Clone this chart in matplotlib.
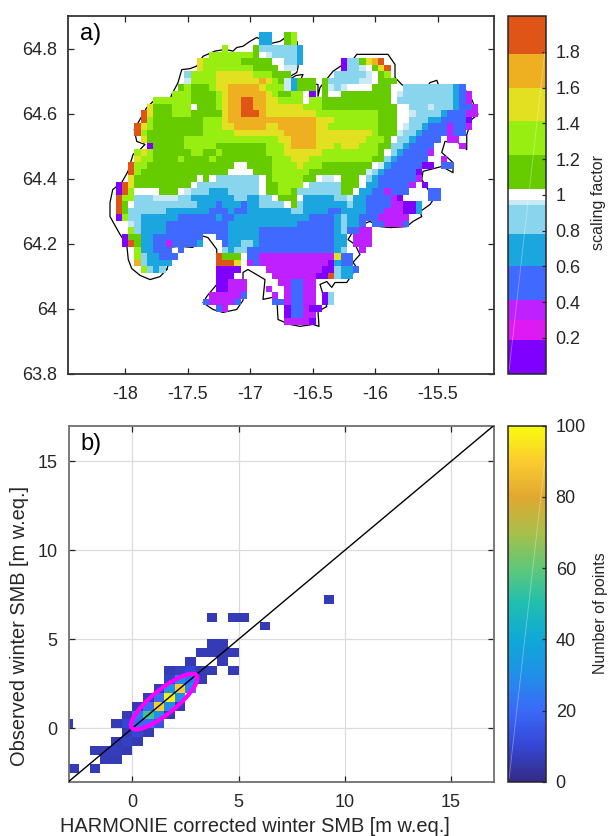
import re
import numpy as np
import matplotlib
matplotlib.use("Agg")
import matplotlib.pyplot as plt
from matplotlib.colors import ListedColormap, BoundaryNorm, LinearSegmentedColormap
from matplotlib.patches import Ellipse, Rectangle

plt.rcParams['font.family'] = ['Liberation Sans', 'DejaVu Sans']
plt.rcParams['axes.unicode_minus'] = False

# ---------- panel a data: scaling factor classes per grid row (north to south)
class_value = dict(v=0.1, m=0.33, b=0.5, c=0.7, l=0.86, p=0.955, w=1.0,
                   g=1.12, h=1.3, y=1.5, o=1.7, r=1.9)
grid_rows = [
 "23-24c 27g 28h",
 "23-24c 27g 28h",
 "17h 22g 23-24l 25-28l 29c",
 "15-21h 22g 23w 24p 25-28l 29c",
 "13y 14-19h 20-24g 25-26w 27-28l 29c 36v 37-38l 39g 40y 41o 42r",
 "13y 14-21h 22-25g 26w 27-28p 36v 37-38l 39p 40w 41g 42y 43r",
 "11l 12-15h 16-21y 22-24h 25-27g 35-39l 40p 41w 42g 43h",
 "11p 12-15h 16-22y 23o 24y 25h 26g 27p 28c 29-31g 33g 34-38l 39-40p 41w 42-44g",
 "10g 11h 12-14g 15h 16-17y 18-22o 23y 24-26h 27p 28c 29-31g 33g 34p 35l 36p 37-40w 41-43g 44w 46-53l 54c 55b",
 "9-11h 12-15g 16h 17y 18-23o 24y 25h 26-27g 28-29h 31v 33g 34-35w 36-43g 44w 45p 46-53l 54c 55b 56m",
 "6-11h 12-15g 16h 17y 18-19o 20-21r 22-23o 24-25y 26-29h 31-32h 33-43g 44w 45l 46-53l 54c 55b 56m",
 "5y 6-8g 9-11h 12w 13-15g 16h 17y 18-19o 20-21r 22-23o 24y 25-29y 30-32h 33-44g 45-46w 47-49l 50p 51-53l 54c 55-56b 57m",
 "4r 5y 6-8g 9-11h 12-16g 17y 18-19o 20-22r 23o 24-31y 32-41h 42-44g 45-46w 47p 48-51l 52c 53-55b 56-57m",
 "4r 5h 6-13g 14-16h 17y 18-23o 24-31o 32-34y 35-41h 42-44g 45-46w 47-49l 50-51c 52-55b 56v",
 "3r 4y 5h 6-13g 14-16h 17-18y 19-23o 24-25y 26-31o 32-33y 34-41h 42-44g 45w 46p 47-48l 49c 50-52b 53m 54-55b 56m",
 "3r 4h 5-13g 14-18h 19-26y 27-31o 32-40y 41h 42-44g 45p 46-47l 48c 49-52b 53m 54-55b",
 "4y 5-10g 11-25h 26-27y 28-31o 32-39y 40-42h 43g 44w 45-46l 47c 48-51b 53-54m",
 "5v 6-10g 11-15h 16-23g 24-26h 27y 28-31o 32-34y 35h 36-38y 39-41h 42-43g 44-45l 46c 47-50b 55m",
 "3h 4y 5h 6-11g 12-13h 14-15g 16h 17-23g 24-26h 27-32y 33-41h 42g 43w 44l 45c 46-49b 50m",
 "3y 4-5h 6-9g 10h 11-14g 15h 16-24g 25-27h 28-30y 31-40h 41-42g 43l 44c 45-49b 52m",
 "2r 3-4h 5-18g 19-20w 21-24g 25-28h 29y 30-32h 33-40g 41w 42p 43c 44-48b 49-50v 52-53b",
 "2r 3h 4-17g 18-21w 22-24g 25-30h 31-39g 40p 41l 42c 43-47b 48v",
 "2y 3-12g 13w 14g 15w 16-22l 23w 24g 25-29h 30-31g 32w 33-34p 35w 36-38g 39w 40l 41c 42-47b 48m",
 "0v 1r 2y 3-11g 12w 13-22l 23w 24-25g 26-29h 30w 31-35l 36-38g 39w 40-41c 42-46b 47m 49v",
 "0v 1r 2h 3-6w 7-9g 10w 11p 12-14l 15-17c 18-22l 23w 24-25g 26-27h 28g 29l 30-35l 36-37g 38w 39-40c 41-42b 43m 44-46b 50-51b",
 "0r 1-2h 3-5l 6-9p 10-11l 12-18c 19-20l 21-22c 23-24l 25w 26-28g 29w 30-34c 35-36l 37p 38-39c 40-43b 44m 45v 50-51b",
 "0r 1g 2w 3-12l 13-15c 16b 17-19c 20b 21-22c 23-26l 27w 28g 29l 30-36c 37l 38-39c 40-43b 44-45m 46-47v 48c",
 "0r 1g 2-7l 8-14c 15-17b 18c 19-20b 21-27c 28-29l 30-33c 34-35b 36-39c 40-42b 43-45m 46-47v 48c",
 "0v 1h 2-3l 4-9c 10-15b 16c 17-18b 19-30c 31-34b 35c 36l 37-38c 39-41b 42-46m",
 "2p 3l 4-7c 8-17b 18-28c 29-34b 35c 36l 37-38c 39b 41-42b 43-45m 46b",
 "2h 3l 4-7c 8-17b 18-22c 23-34b 35c 36l 37-38b 39-40m",
 "1v 2-3g 4-5c 6-13b 16-17b 18-22c 23-34b 35-36c 38-40m",
 "1v 2r 3g 4-5c 6-7b 8m 9-12b 13c 17b 18-19c 20-21l 22c 23-34b 35-36c 38-40m",
 "3h 4-5c 6-8b 10b 17l 18c 19-20l 21-34b 35c 36l 39m",
 "3h 4l 5-6c 7-9b 16r 17-19g 21-22b 23-34m 35y 36-37b",
 "3o 4l 5-8c 16-18r 19y 21m 22b 23-33m 34v 35c 36-37b",
 "4h 5l 6c 7l 16-19v 24-32m 33-34v 35l 36-37c 38b",
 "16-18v 25-31m 32-33v 34r 35l 36-37c",
 "16-17v 18-20m 26-27m 28-29b 30-31m",
 "16-17v 18-20m 24m 27m 28-29b 30-31m",
 "15-19m 20b 25m 27m 28-29b 30-31m 33v 34l",
 "14b 15-18m 19b 25-26b 27m 28-29b 30-31m 33v 34l",
 "16b 17m 27v 28-29b 30m 31-32v",
 "27v 28-29b 30-31m",
 "27-30m 31v",
]
lon_first_edge, lon_step = -18.075, 0.05
lat_first_edge, lat_step = 64.85, -0.02
n_cols = 58

coast_lon = [-17.666,-17.72,-17.80,-17.88,-17.946,-17.974,-17.986,-18.04,-18.12,-18.12,-18.098,-18.026,-17.976,-17.936,-17.88,-17.84,-17.906,-17.926,-17.88,-17.826,-17.76,-17.68,-17.64,-17.626,-17.576,-17.546,-17.48,-17.426,-17.376,-17.28,-17.2,-17.136,-17.106,-17.056,-17.0,-16.946,-16.84,-16.76,-16.704,-16.624,-16.616,-16.616,-16.626,-16.68,-16.696,-16.632,-16.576,-16.6,-16.456,-16.456,-16.44,-16.336,-16.216,-16.176,-16.146,-15.896,-15.84,-15.84,-15.786,-15.736,-15.586,-15.56,-15.506,-15.48,-15.376,-15.28,-15.226,-15.176,-15.226,-15.266,-15.266,-15.336,-15.44,-15.466,-15.376,-15.376,-15.466,-15.616,-15.626,-15.576,-15.506,-15.56,-15.64,-15.626,-15.696,-15.746,-15.88,-15.96,-16.04,-16.106,-16.176,-16.216,-16.16,-16.12,-16.176,-16.146,-16.226,-16.32,-16.346,-16.386,-16.44,-16.416,-16.386,-16.456,-16.448,-16.496,-16.6,-16.68,-16.776,-16.786,-16.896,-16.88,-17.016,-17.056,-17.056,-17.106,-17.216,-17.296,-17.376,-17.346,-17.266,-17.266,-17.336,-17.416,-17.456,-17.56,-17.666,-17.626,-17.666]
coast_lat = [64.12,64.098,64.089,64.102,64.123,64.151,64.197,64.228,64.283,64.326,64.366,64.388,64.422,64.474,64.489,64.505,64.514,64.551,64.582,64.618,64.643,64.643,64.643,64.658,64.695,64.735,64.738,64.746,64.776,64.792,64.797,64.792,64.803,64.807,64.822,64.834,64.815,64.822,64.837,64.822,64.782,64.742,64.726,64.714,64.702,64.717,64.72,64.699,64.689,64.653,64.68,64.73,64.761,64.766,64.782,64.782,64.751,64.711,64.689,64.68,64.68,64.695,64.702,64.677,64.674,64.674,64.643,64.597,64.582,64.535,64.489,64.511,64.514,64.48,64.449,64.418,64.437,64.422,64.397,64.366,64.351,64.32,64.298,64.283,64.268,64.252,64.249,64.252,64.268,64.258,64.237,64.212,64.197,64.166,64.142,64.126,64.08,64.08,64.065,64.083,64.074,64.043,64.006,63.991,63.945,63.951,63.945,63.951,63.966,64.037,64.028,64.089,64.12,64.111,64.025,63.997,63.988,63.997,64.018,64.037,64.074,64.182,64.218,64.228,64.188,64.191,64.188,64.166,64.12]

sf_bounds = [0, 0.19, 0.30, 0.41, 0.6, 0.78, 0.94, 0.97, 1.03, 1.22, 1.41, 1.6, 1.79, 2.0]
sf_colors = ['#8000FF', '#DE1AF2', '#BE20FF', '#4069FF', '#1CA6DF', '#8AD5EE',
             '#C9EAF5', '#FFFFFF', '#66CC00', '#99EE11', '#E2E020', '#EEB020', '#DF5518']
sf_ticks = [0.2, 0.4, 0.6, 0.8, 1, 1.2, 1.4, 1.6, 1.8]
sf_ticklabels = ['0.2', '0.4', '0.6', '0.8', '1', '1.2', '1.4', '1.6', '1.8']
lon_ticks = [-18, -17.5, -17, -16.5, -16, -15.5]
lon_ticklabels = ['-18', '-17.5', '-17', '-16.5', '-16', '-15.5']
lat_ticks = [63.8, 64, 64.2, 64.4, 64.6, 64.8]
lat_ticklabels = ['63.8', '64', '64.2', '64.4', '64.6', '64.8']

# ---------- panel b data: 2-D histogram bins (left edge x, lower edge y, count)
bin_size = 0.5
bin_x = [3.5,4, 3,3.5,4,4.5, 2.5,4, 1.5,2,2.5,3,3.5,4.5, 1.5,2,2.5,3, 1,1.5,2,2.5, 0.5,1,1.5,2, 0,0.5,1,1.5,2,
         -0.5,0,0.5,1,1.5, -1,-0.5,0,0.5,1, -0.5,0,0.5, -1,-0.5,0, -2,-1.5,-1,-0.5, -1.5,-1, -3,-2,
         3.5,4.5,5, 6, 9]
bin_y = [4.5,4.5, 4,4,4,4, 3.5,3.5, 3,3,3,3,3,3, 2.5,2.5,2.5,2.5, 2,2,2,2, 1.5,1.5,1.5,1.5, 1,1,1,1,1,
         0.5,0.5,0.5,0.5,0.5, 0,0,0,0,0, -0.5,-0.5,-0.5, -1,-1,-1, -1.5,-1.5,-1.5,-1.5, -2,-2, -2.5,-2.5,
         6,6,6, 5.5, 7]
bin_n = [6,6, 6,6,6,6, 6,6, 6,8,10,6,6,6, 8,28,22,6, 6,32,90,26, 6,20,98,32, 6,20,90,30,6,
         6,22,55,30,6, 6,10,20,20,14, 6,10,6, 6,8,6, 6,7,7,6, 6,6, 6,6,
         6,6,6, 6,6]
edge_bin_y, edge_bin_width, edge_bin_n = 0, 0.2, 6   # bin cut off by the left axis edge
smb_ticks = [0, 5, 10, 15]
ellipse_center = (1.5, 1.5)
ellipse_major, ellipse_minor = 4.25, 1.25
count_ticks = [0, 20, 40, 60, 80, 100]
parula_colors = ['#352A87', '#3547D4', '#3A6AF8', '#2090E8', '#10A8D8', '#20BEB0',
                 '#60C878', '#A8BF4A', '#E0A830', '#FBCB30', '#F9FB0E']

W, H = 611, 836
fig = plt.figure(figsize=(W/100, H/100), dpi=100)

def axpx(l, t, r, b):
    return fig.add_axes([l/W, 1-b/H, (r-l)/W, (b-t)/H])

ink = '#262626'
# ---------- panel a
grid = np.full((len(grid_rows), n_cols), np.nan)
for j, row in enumerate(grid_rows):
    for a, b, c in re.findall(r'(\d+)(?:-(\d+))?([a-z])', row):
        grid[j, int(a):int(b or a)+1] = class_value[c]
lon_edges = lon_first_edge + lon_step*np.arange(n_cols+1)
lat_edges = lat_first_edge + lat_step*np.arange(len(grid_rows)+1)

ax = axpx(68, 16, 493.5, 373.5)
sf_cmap = ListedColormap(sf_colors)
sf_norm = BoundaryNorm(sf_bounds, sf_cmap.N)
mesh = ax.pcolormesh(lon_edges, lat_edges, grid, cmap=sf_cmap, norm=sf_norm, linewidth=0, antialiased=False, zorder=3)
ax.plot(coast_lon, coast_lat, color='k', lw=0.9, zorder=2)
ax.set_xlim(-18.456, -15.052)
ax.set_ylim(63.8, 64.9)
ax.set_xticks(lon_ticks, lon_ticklabels)
ax.set_yticks(lat_ticks, lat_ticklabels)
ax.tick_params(direction='in', length=4, width=0.9, labelsize=13, color=ink, labelcolor=ink, top=True, right=True)
ax.tick_params(axis='x', pad=9)
ax.tick_params(axis='y', pad=8)
ax.text(0.028, 0.95, 'a)', transform=ax.transAxes, fontsize=17, va='center', color='k', zorder=6)
for s in ax.spines.values():
    s.set_edgecolor('#333333')
    s.set_linewidth(1.3)

cax = axpx(508, 16, 546, 373.5)
cb = fig.colorbar(mesh, cax=cax, spacing='proportional', ticks=sf_ticks, drawedges=False)
cb.ax.set_yticklabels(sf_ticklabels)
cb.ax.tick_params(direction='in', length=3, width=0.9, labelsize=13, color=ink, labelcolor=ink, pad=7)
cb.outline.set_edgecolor(ink)
cb.outline.set_linewidth(1.1)
cb.minorticks_off()
cax.plot([0.03, 0.97], [0.01, 0.9], transform=cax.transAxes, color='white', lw=0.6, alpha=0.35)
fig.text(598/W, 1-202/H, 'scaling factor', rotation=90, fontsize=11.6, color=ink, ha='center', va='center')

# ---------- panel b
xe = np.arange(-3, 17.01, bin_size)
ye = np.arange(-3, 17.01, bin_size)
hist = np.full((len(ye)-1, len(xe)-1), np.nan)
for x, y, n in zip(bin_x, bin_y, bin_n):
    hist[int(round((y+3)/bin_size)), int(round((x+3)/bin_size))] = n

axb = axpx(68.5, 425.7, 493.6, 781.7)
parula = LinearSegmentedColormap.from_list('parula', parula_colors)
pm = axb.pcolormesh(xe, ye, hist, cmap=parula, vmin=0, vmax=100, linewidth=0, antialiased=False, zorder=2)
axb.add_patch(Rectangle((-3, edge_bin_y), edge_bin_width, bin_size, lw=0, zorder=2,
                        facecolor=parula(edge_bin_n/100)))
axb.set_xlim(-3, 17)
axb.set_ylim(-3, 17)
axb.set_xticks(smb_ticks)
axb.set_yticks(smb_ticks)
axb.grid(True, color='#dcdcdc', lw=0.9, zorder=1)
axb.set_axisbelow(True)
axb.plot([-3, 17], [-3, 17], color='k', lw=1, zorder=4)
axb.add_patch(Ellipse(ellipse_center, ellipse_major, ellipse_minor, angle=45, fill=False,
                      edgecolor='#FF00FF', lw=3, zorder=5))
axb.tick_params(direction='in', length=4, width=0.9, labelsize=13, color=ink, labelcolor=ink, top=True, right=True)
axb.tick_params(axis='x', pad=9)
axb.tick_params(axis='y', pad=8)
fig.text(255/W, 1-826/H, 'HARMONIE corrected winter SMB [m w.eq.]', fontsize=14.4, color=ink, ha='center', va='center')
fig.text(20/W, 1-626/H, 'Observed winter SMB [m w.eq.]', rotation=90, fontsize=14.4, color=ink, ha='center', va='center')
axb.text(0.028, 0.95, 'b)', transform=axb.transAxes, fontsize=17, va='center', color='k', zorder=6)
for s in axb.spines.values():
    s.set_edgecolor('#707070')
    s.set_linewidth(1.3)

caxb = axpx(508, 425.7, 546, 781.7)
cbb = fig.colorbar(pm, cax=caxb, ticks=count_ticks)
cbb.ax.tick_params(direction='in', length=3, width=0.9, labelsize=13, color=ink, labelcolor=ink, pad=7)
cbb.outline.set_edgecolor(ink)
cbb.outline.set_linewidth(1.1)
caxb.plot([0.03, 0.97], [0.01, 0.9], transform=caxb.transAxes, color='white', lw=0.6, alpha=0.35)
fig.text(600/W, 1-613/H, 'Number of points', rotation=90, fontsize=11.5, color=ink, ha='center', va='center')

fig.savefig('out.png', dpi=100)
